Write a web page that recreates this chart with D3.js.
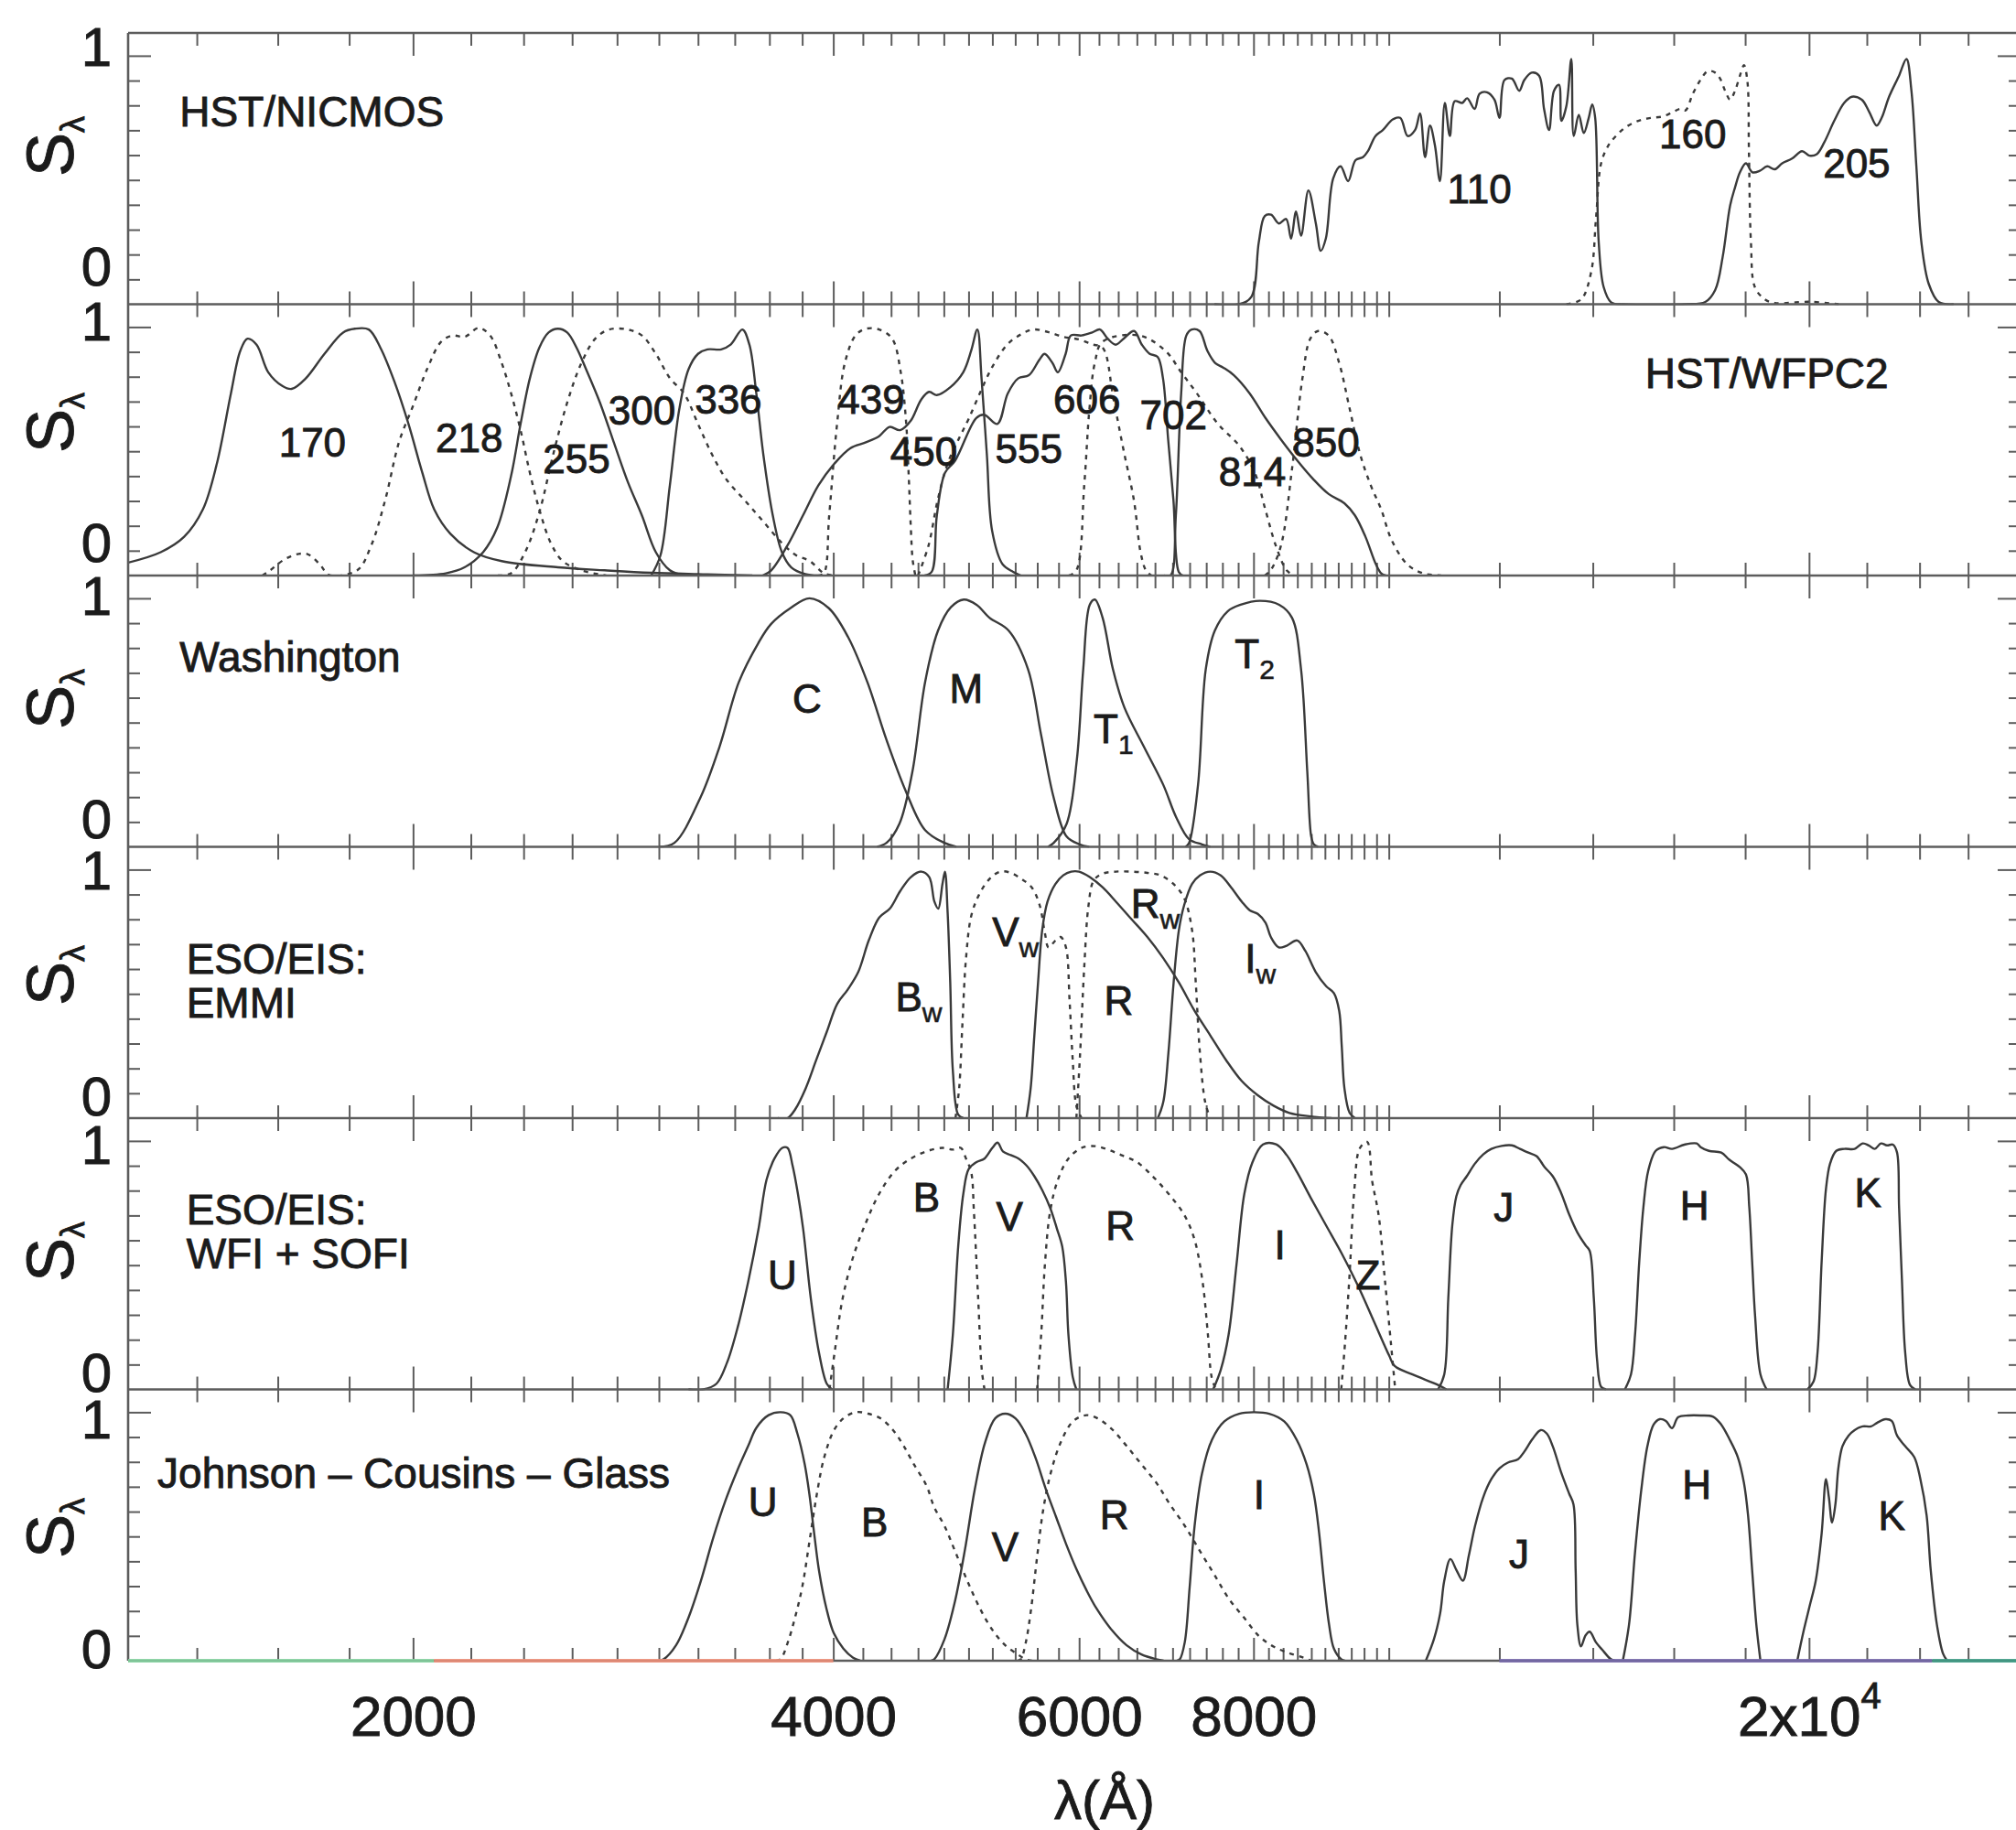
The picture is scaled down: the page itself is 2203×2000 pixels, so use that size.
<!DOCTYPE html>
<html>
<head>
<meta charset="utf-8">
<script src="https://cdn.jsdelivr.net/npm/d3@7"></script>
<style>
html,body{margin:0;padding:0;background:#fff;}
svg{display:block;}
text{font-family:"Liberation Sans",Arial,Helvetica,sans-serif;fill:#1b1b1b;stroke:#1b1b1b;stroke-width:0.9px;}
</style>
</head>
<body>
<svg id="chart" width="2203" height="2000"></svg>
<script>
// ================= DATA (wavelength in Å, normalised response S) =================
// --- x axis ---
const xMajorTicks = [2000, 4000, 6000, 8000, 20000];
const xTickLabels = ["2000", "4000", "6000", "8000", "2x10^4"];
const yMinorTicks = [0.1, 0.2, 0.3, 0.4, 0.5, 0.6, 0.7, 0.8, 0.9];
const yMajorTicks = [1];
const yTickLabels = ["0", "1"];
const xAxisTitle = "λ(Å)";
const yAxisTitle = ["S", "λ"];

// --- panel titles ---
const panelTitles = [
  ["HST/NICMOS"], ["HST/WFPC2"], ["Washington"],
  ["ESO/EIS:", "EMMI"], ["ESO/EIS:", "WFI + SOFI"], ["Johnson – Cousins – Glass"]
];
const panelTitleLam = [1361, 15265, 1361, 1376, 1376, 1312];
const panelTitleS = [[0.775], [0.817], [0.767], [0.644, 0.464], [0.727, 0.547], [0.758]];

// --- HST/NICMOS ---
const nic110 = [[7500,0],[7810,0],[7972,0.03],[8070,0.25],[8150,0.355],[8236,0.36],[8340,0.325],[8442,0.343],[8511,0.264],[8581,0.373],[8652,0.276],[8758,0.458],[8866,0.325],[8938,0.215],[9013,0.264],[9124,0.507],[9236,0.555],[9350,0.495],[9466,0.58],[9583,0.592],[9661,0.616],[9782,0.677],[9902,0.701],[10065,0.744],[10190,0.75],[10316,0.677],[10442,0.701],[10528,0.768],[10616,0.592],[10703,0.719],[10790,0.64],[10879,0.495],[10968,0.81],[11059,0.677],[11149,0.817],[11287,0.81],[11379,0.829],[11521,0.786],[11616,0.847],[11758,0.853],[11903,0.823],[12002,0.75],[12101,0.902],[12250,0.908],[12400,0.859],[12503,0.902],[12657,0.932],[12813,0.92],[12918,0.786],[13025,0.701],[13132,0.859],[13240,0.883],[13294,0.738],[13403,0.798],[13512,0.987],[13567,0.677],[13680,0.762],[13793,0.689],[13906,0.75],[13986,0.804],[14055,0.75],[14137,0.25],[14253,0.069],[14428,0.008],[14665,0]];
const nic160 = [[13403,0],[13736,0.02],[13962,0.13],[14076,0.35],[14193,0.567],[14368,0.64],[14545,0.677],[14786,0.713],[15091,0.738],[15404,0.75],[15721,0.756],[15983,0.774],[16179,0.786],[16311,0.78],[16512,0.847],[16718,0.902],[16923,0.938],[17131,0.932],[17271,0.908],[17415,0.859],[17558,0.823],[17701,0.859],[17846,0.92],[17965,0.962],[18068,0.895],[18112,0.616],[18172,0.25],[18290,0.069],[18591,0.02],[18900,0.005],[20012,0.01],[21000,0]];
const nic205 = [[14665,0],[16311,0],[16854,0.009],[17131,0.057],[17344,0.19],[17558,0.397],[17701,0.47],[17846,0.531],[18022,0.567],[18216,0.531],[18440,0.537],[18667,0.555],[18900,0.543],[19133,0.567],[19447,0.586],[19770,0.616],[20012,0.598],[20258,0.604],[20511,0.652],[20848,0.738],[21191,0.81],[21466,0.835],[21819,0.823],[22087,0.774],[22362,0.719],[22545,0.75],[22822,0.835],[23201,0.92],[23486,0.987],[23679,0.859],[23873,0.555],[24071,0.25],[24368,0.081],[24769,0.009],[25384,0]];
const nicLabels = [["110","",11612,0.466],["160","",16508,0.687],["205","",21634,0.569]];

// --- HST/WFPC2 ---
const wf170 = [[1250,0.052],[1319,0.094],[1371,0.156],[1414,0.266],[1447,0.45],[1481,0.733],[1504,0.904],[1522,0.953],[1545,0.929],[1575,0.818],[1612,0.763],[1637,0.751],[1676,0.794],[1728,0.892],[1782,0.978],[1817,0.993],[1859,0.99],[1895,0.917],[1939,0.782],[1985,0.61],[2031,0.413],[2071,0.266],[2127,0.168],[2211,0.094],[2315,0.058],[2540,0.033],[2743,0.021],[2962,0.011],[3250,0.005],[3500,0]];
const wf218 = [[1560,0],[1575,0.015],[1624,0.07],[1676,0.088],[1715,0.045],[1741,0.002],[1824,0.021],[1866,0.119],[1910,0.303],[1954,0.536],[2000,0.683],[2047,0.831],[2095,0.941],[2135,0.966],[2177,0.96],[2228,0.996],[2271,0.966],[2315,0.855],[2351,0.733],[2388,0.585],[2425,0.413],[2463,0.266],[2510,0.131],[2560,0.058],[2640,0.021],[2750,0]];
const wf255 = [[2000,0],[2111,0.009],[2177,0.033],[2245,0.094],[2298,0.193],[2351,0.401],[2388,0.61],[2425,0.794],[2463,0.917],[2501,0.978],[2540,0.993],[2579,0.978],[2619,0.917],[2660,0.831],[2722,0.696],[2785,0.536],[2850,0.377],[2917,0.242],[2985,0.094],[3055,0.021],[3127,0]];
const wf300 = [[2300,0],[2351,0.009],[2406,0.094],[2463,0.254],[2520,0.487],[2579,0.696],[2640,0.855],[2701,0.953],[2764,0.99],[2850,0.99],[2917,0.966],[2985,0.892],[3055,0.794],[3127,0.733],[3200,0.61],[3275,0.487],[3351,0.389],[3456,0.303],[3564,0.217],[3675,0.131],[3761,0.082],[3849,0.058],[3938,0.009],[4000,0]];
const wf336 = [[2962,0],[3008,0.082],[3055,0.364],[3103,0.671],[3151,0.831],[3200,0.892],[3250,0.91],[3325,0.91],[3377,0.929],[3443,0.99],[3483,0.929],[3523,0.733],[3564,0.487],[3620,0.242],[3675,0.094],[3732,0.033],[3819,0.006],[3900,0]];
const wf439 = [[3900,0],[3938,0.009],[3973,0.242],[4025,0.61],[4077,0.855],[4149,0.966],[4221,0.993],[4314,0.99],[4408,0.953],[4470,0.82],[4510,0.62],[4530,0.4],[4545,0.2],[4560,0.06],[4580,0]];
const wf450 = [[3560,0],[3611,0.021],[3707,0.119],[3805,0.242],[3904,0.364],[4007,0.45],[4113,0.512],[4221,0.536],[4314,0.561],[4389,0.598],[4466,0.585],[4544,0.622],[4624,0.708],[4684,0.739],[4745,0.726],[4850,0.757],[4956,0.818],[5021,0.904],[5073,0.99],[5108,0.794],[5153,0.487],[5198,0.18],[5289,0.045],[5381,0.015],[5450,0]];
const wf555 = [[4600,0],[4680,0.12],[4750,0.3],[4830,0.45],[4920,0.55],[5000,0.63],[5100,0.74],[5200,0.84],[5330,0.93],[5450,0.97],[5560,0.99],[5700,0.98],[5850,0.96],[6000,0.95],[6130,0.93],[6237,0.917],[6350,0.71],[6456,0.505],[6569,0.3],[6640,0.094],[6700,0.02],[6760,0]];
const wf606 = [[4650,0],[4705,0.015],[4745,0.242],[4809,0.413],[4891,0.463],[5064,0.634],[5130,0.647],[5243,0.61],[5334,0.733],[5428,0.794],[5523,0.806],[5619,0.868],[5668,0.892],[5742,0.855],[5793,0.818],[5868,0.892],[5919,0.966],[6024,0.966],[6130,0.978],[6209,0.99],[6290,0.953],[6373,0.929],[6456,0.953],[6569,0.984],[6654,0.929],[6741,0.892],[6829,0.88],[6890,0.794],[6949,0.548],[7010,0.303],[7071,0.015],[7120,0]];
const wf702 = [[5900,0],[5973,0.021],[6051,0.364],[6103,0.671],[6157,0.855],[6237,0.941],[6624,0.966],[6918,0.904],[7100,0.818],[7286,0.733],[7544,0.61],[7809,0.524],[8018,0.413],[8157,0.266],[8301,0.119],[8449,0.021],[8550,0]];
const wf814 = [[6900,0],[6977,0],[7038,0.242],[7100,0.733],[7161,0.966],[7224,0.99],[7318,0.984],[7414,0.904],[7511,0.855],[7609,0.837],[7745,0.806],[7949,0.733],[8157,0.635],[8369,0.548],[8598,0.463],[8824,0.389],[9055,0.328],[9293,0.291],[9456,0.242],[9622,0.156],[9790,0.045],[9875,0.009],[9950,0]];
const wf850 = [[8150,0],[8229,0.021],[8369,0.119],[8523,0.426],[8672,0.794],[8785,0.953],[8900,0.984],[9055,0.966],[9214,0.855],[9375,0.671],[9539,0.487],[9705,0.364],[9875,0.266],[10044,0.144],[10309,0.045],[10580,0.009],[10900,0]];
const wfLabels = [["170","",1694,0.536],["218","",2194,0.555],["255","",2619,0.469],["300","",2917,0.665],["336","",3364,0.708],["439","",4258,0.708],["450","",4644,0.5],["555","",5523,0.512],["606","",6077,0.708],["702","",7010,0.647],["814","",7984,0.42],["850","",9016,0.536]];

// --- Washington ---
const waC = [[3000,0],[3078,0.016],[3212,0.197],[3316,0.404],[3423,0.663],[3534,0.819],[3609,0.896],[3726,0.96],[3846,1.0],[3971,0.96],[4098,0.845],[4231,0.663],[4367,0.43],[4509,0.223],[4654,0.067],[4805,0.016],[4900,0]];
const waM = [[4300,0],[4367,0.016],[4461,0.093],[4557,0.301],[4654,0.663],[4754,0.87],[4856,0.964],[4960,0.995],[5066,0.974],[5175,0.922],[5342,0.87],[5515,0.715],[5633,0.456],[5754,0.197],[5878,0.041],[6004,0.01],[6100,0]];
const waT1 = [[5700,0],[5754,0.016],[5878,0.093],[5978,0.352],[6041,0.715],[6106,0.974],[6158,0.995],[6237,0.922],[6344,0.715],[6466,0.56],[6675,0.404],[6894,0.249],[7042,0.119],[7193,0.031],[7347,0.01],[7450,0]];
const waT2 = [[7150,0],[7193,0.016],[7300,0.249],[7394,0.715],[7505,0.87],[7666,0.948],[7831,0.974],[8084,0.99],[8346,0.974],[8524,0.922],[8652,0.715],[8742,0.301],[8799,0.041],[8837,0.01],[8900,0]];
const waLabels = [["C","",3830,0.596],["M","",4981,0.637],["T","1",6350,0.477],["T","2",8015,0.777]];

// --- ESO/EIS: EMMI ---
const emBw = [[3650,0],[3709,0],[3756,0.035],[3822,0.12],[3889,0.234],[3957,0.347],[4026,0.46],[4096,0.517],[4168,0.588],[4241,0.715],[4315,0.807],[4391,0.843],[4467,0.914],[4546,0.97],[4625,0.992],[4686,0.97],[4726,0.871],[4756,0.843],[4789,0.942],[4809,0.992],[4830,0.829],[4851,0.545],[4872,0.191],[4915,0.014],[4957,0]];
const emVw = [[4893,0],[4923,0.12],[4949,0.375],[4979,0.644],[5022,0.814],[5087,0.899],[5177,0.963],[5268,0.992],[5360,0.987],[5454,0.963],[5550,0.928],[5622,0.857],[5671,0.744],[5705,0.687],[5770,0.715],[5820,0.729],[5871,0.687],[5906,0.475],[5937,0.234],[5973,0.05],[6025,0]];
const emRw = [[5501,0],[5539,0.12],[5573,0.333],[5607,0.545],[5646,0.758],[5695,0.871],[5770,0.942],[5845,0.977],[5922,0.992],[5999,0.992],[6106,0.97],[6239,0.928],[6376,0.871],[6543,0.8],[6715,0.729],[6893,0.644],[7074,0.545],[7258,0.432],[7449,0.333],[7645,0.234],[7847,0.149],[8056,0.092],[8268,0.05],[8488,0.021],[8788,0.007],[9099,0]];
const emR = [[5973,0],[6010,0.262],[6052,0.616],[6094,0.857],[6146,0.956],[6239,0.984],[6376,0.992],[6543,0.992],[6715,0.987],[6863,0.977],[7012,0.942],[7135,0.885],[7228,0.758],[7273,0.545],[7323,0.262],[7387,0.064],[7449,0]];
const emIw = [[6832,0],[6893,0.064],[6952,0.262],[7012,0.545],[7074,0.758],[7135,0.857],[7228,0.942],[7323,0.977],[7449,0.992],[7579,0.977],[7711,0.928],[7847,0.871],[7952,0.836],[8056,0.822],[8161,0.786],[8231,0.729],[8340,0.687],[8450,0.694],[8598,0.715],[8713,0.673],[8864,0.588],[9017,0.531],[9134,0.503],[9214,0.432],[9253,0.29],[9294,0.12],[9374,0.021],[9456,0]];
const emLabels = [["B","w",4605,0.489],["V","w",5402,0.751],["R","",6403,0.475],["R","w",6803,0.864],["I","w",8091,0.645]];

// --- ESO/EIS: WFI + SOFI ---
const wsU = [[3150,0],[3229,0],[3299,0.023],[3357,0.108],[3416,0.249],[3476,0.433],[3536,0.646],[3583,0.844],[3630,0.929],[3677,0.972],[3709,0.972],[3740,0.901],[3773,0.788],[3806,0.646],[3855,0.363],[3906,0.15],[3957,0.023],[3992,0]];
const wsB = [[3975,0],[4009,0.15],[4061,0.363],[4133,0.533],[4223,0.674],[4315,0.788],[4429,0.88],[4546,0.929],[4665,0.958],[4789,0.972],[4872,0.965],[4936,0.972],[4979,0.929],[5022,0.873],[5044,0.717],[5080,0.363],[5110,0.079],[5133,0]];
const wsV = [[4830,0],[4872,0.221],[4915,0.575],[4957,0.788],[5001,0.887],[5066,0.915],[5133,0.929],[5200,0.972],[5245,0.993],[5291,0.958],[5360,0.943],[5430,0.929],[5501,0.901],[5573,0.858],[5646,0.802],[5720,0.731],[5785,0.646],[5835,0.575],[5871,0.433],[5895,0.221],[5937,0.051],[5973,0]];
const wsR = [[5598,0],[5636,0.221],[5671,0.504],[5720,0.717],[5794,0.844],[5895,0.929],[6025,0.972],[6159,0.979],[6293,0.965],[6431,0.943],[6600,0.915],[6773,0.858],[6952,0.788],[7135,0.703],[7258,0.603],[7355,0.433],[7420,0.221],[7465,0.051],[7517,0]];
const wsI = [[7484,0],[7579,0.079],[7678,0.221],[7779,0.504],[7880,0.788],[7987,0.915],[8126,0.986],[8304,0.986],[8450,0.943],[8598,0.873],[8788,0.773],[9017,0.66],[9253,0.547],[9501,0.419],[9750,0.278],[10006,0.136],[10093,0.095],[10400,0.06],[10847,0.018],[10995,0]];
const wsZ = [[9245,0],[9301,0.18],[9375,0.47],[9446,0.8],[9532,0.97],[9648,0.996],[9728,0.84],[9834,0.7],[9936,0.44],[10037,0.18],[10106,0]];
const wsJ = [[10846,0],[10958,0.061],[11031,0.368],[11104,0.661],[11179,0.778],[11257,0.822],[11372,0.858],[11527,0.909],[11685,0.946],[11843,0.968],[12046,0.98],[12251,0.982],[12416,0.968],[12586,0.953],[12758,0.939],[12929,0.895],[13105,0.858],[13284,0.792],[13463,0.705],[13647,0.632],[13834,0.58],[13928,0.558],[14023,0.368],[14098,0.12],[14194,0.01],[14309,0]];
const wsH = [[14761,0],[14910,0.061],[15011,0.222],[15115,0.515],[15219,0.734],[15340,0.88],[15529,0.96],[15742,0.975],[15956,0.968],[16282,0.985],[16616,0.99],[16726,0.975],[16954,0.96],[17303,0.953],[17538,0.924],[17838,0.895],[18023,0.865],[18122,0.734],[18208,0.515],[18297,0.295],[18459,0.061],[18649,0]];
const wsK = [[19948,0],[20150,0.032],[20282,0.149],[20420,0.515],[20566,0.807],[20706,0.909],[20917,0.96],[21203,0.968],[21561,0.968],[21853,0.99],[22070,0.982],[22292,0.968],[22518,0.99],[22743,0.982],[22971,0.985],[23124,0.953],[23201,0.734],[23311,0.442],[23437,0.149],[23623,0.018],[23833,0]];
const wsLabels = [["U","",3677,0.462],["B","",4665,0.773],["V","",5349,0.696],["R","",6420,0.66],["I","",8355,0.582],["Z","",9663,0.462],["J","",12088,0.735],["H","",16557,0.742],["K","",22041,0.793]];

// --- Johnson - Cousins - Glass ---
const jcU = [[3000,0],[3024,0.006],[3086,0.062],[3150,0.173],[3215,0.321],[3281,0.494],[3347,0.642],[3414,0.765],[3476,0.864],[3524,0.938],[3595,0.988],[3667,1.0],[3726,0.988],[3770,0.914],[3816,0.79],[3846,0.667],[3877,0.506],[3908,0.358],[3955,0.21],[4003,0.111],[4067,0.049],[4133,0.012],[4182,0]];
const jcB = [[3640,0],[3667,0.006],[3711,0.074],[3755,0.173],[3800,0.296],[3846,0.481],[3892,0.667],[3939,0.815],[4003,0.926],[4067,0.975],[4150,1.0],[4237,0.994],[4326,0.975],[4417,0.926],[4493,0.864],[4569,0.79],[4665,0.704],[4725,0.617],[4805,0.543],[4887,0.444],[4990,0.321],[5095,0.21],[5202,0.123],[5312,0.062],[5424,0.025],[5492,0.006],[5550,0]];
const jcV = [[4700,0],[4725,0.006],[4805,0.086],[4887,0.235],[4969,0.444],[5052,0.691],[5137,0.877],[5224,0.975],[5312,0.994],[5402,0.975],[5492,0.914],[5585,0.815],[5679,0.691],[5775,0.58],[5873,0.469],[5972,0.37],[6073,0.284],[6175,0.21],[6333,0.123],[6489,0.062],[6650,0.025],[6815,0.006],[6900,0]];
const jcR = [[5420,0],[5450,0.006],[5495,0.074],[5540,0.198],[5599,0.42],[5654,0.605],[5724,0.753],[5819,0.877],[5939,0.963],[6073,0.988],[6186,0.975],[6333,0.932],[6489,0.864],[6650,0.79],[6815,0.716],[6968,0.63],[7142,0.543],[7318,0.444],[7500,0.346],[7686,0.247],[7877,0.173],[8073,0.099],[8273,0.056],[8480,0.031],[8689,0.012],[8800,0]];
const jcI = [[7050,0],[7084,0.006],[7142,0.074],[7200,0.296],[7259,0.543],[7348,0.753],[7470,0.889],[7624,0.963],[7812,0.994],[8005,1.0],[8210,0.994],[8415,0.963],[8590,0.889],[8732,0.79],[8839,0.667],[8912,0.519],[8985,0.321],[9060,0.148],[9134,0.049],[9246,0.006],[9300,0]];
const jcJ = [[10629,0],[10774,0.088],[10883,0.19],[10958,0.322],[11069,0.409],[11179,0.365],[11299,0.322],[11412,0.424],[11527,0.541],[11685,0.658],[11843,0.731],[12005,0.775],[12169,0.797],[12377,0.811],[12503,0.841],[12674,0.892],[12847,0.928],[12977,0.914],[13105,0.863],[13284,0.76],[13463,0.673],[13561,0.629],[13609,0.365],[13647,0.146],[13729,0.058],[13834,0.102],[13928,0.117],[14077,0.073],[14220,0.044],[14416,0.007],[14514,0]];
const jcH = [[14710,0],[14862,0.146],[15011,0.439],[15165,0.687],[15319,0.863],[15477,0.95],[15635,0.972],[15794,0.965],[15956,0.936],[16118,0.98],[16394,0.987],[16726,0.987],[17074,0.982],[17303,0.95],[17538,0.892],[17783,0.819],[17963,0.716],[18086,0.585],[18208,0.365],[18334,0.146],[18459,0]];
const jcK = [[19615,0],[19816,0.117],[20017,0.219],[20222,0.322],[20420,0.512],[20566,0.731],[20665,0.658],[20775,0.556],[20888,0.629],[20990,0.775],[21132,0.863],[21348,0.906],[21561,0.928],[21853,0.943],[22155,0.943],[22383,0.958],[22686,0.972],[22921,0.965],[23124,0.906],[23437,0.863],[23791,0.819],[24031,0.731],[24280,0.585],[24445,0.365],[24694,0.146],[24945,0.029],[25114,0]];
const jcLabels = [["U","",3562,0.638],["B","",4281,0.559],["V","",5312,0.46],["R","",6358,0.589],["I","",8073,0.669],["J","",12398,0.431],["H","",16616,0.708],["K","",22921,0.584]];

// coloured strip along the bottom axis (wavelength ranges)
const bandStart = [1250, 2070, 12000, 24500];
const bandEnd   = [2070, 4000, 24500, 28350];

// ================= BUILD =================
const panels = [
  {curves: [[nic110,0],[nic160,1],[nic205,0]], labels: nicLabels},
  {curves: [[wf170,0],[wf218,1],[wf255,0],[wf300,1],[wf336,0],[wf439,1],[wf450,0],[wf555,1],[wf606,0],[wf702,1],[wf814,0],[wf850,1]], labels: wfLabels},
  {curves: [[waC,0],[waM,0],[waT1,0],[waT2,0]], labels: waLabels},
  {curves: [[emBw,0],[emVw,1],[emRw,0],[emR,1],[emIw,0]], labels: emLabels},
  {curves: [[wsU,0],[wsB,1],[wsV,0],[wsR,1],[wsI,0],[wsZ,1],[wsJ,0],[wsH,0],[wsK,0]], labels: wsLabels},
  {curves: [[jcU,0],[jcB,1],[jcV,0],[jcR,1],[jcI,0],[jcJ,0],[jcH,0],[jcK,0]], labels: jcLabels}
];
const bandColors = ["#86d6a2", "#f39079", "#7769ae", "#3e9f88"];

const L = 140, R = 2208, TOP = 36, BOT = 1815, NP = 6;
const PH = (BOT - TOP) / NP;
const YMAX = 1.0917;
const lineColor = "#3a3a3a", frameColor = "#5c5c5c", tickColor = "#5c5c5c";

const x = d3.scaleLog().domain([1250, 28350]).range([L, R]);
const xMinorTicks = d3.range(1400, 10001, 200).concat(d3.range(12000, 26001, 2000))
  .filter(v => xMajorTicks.indexOf(v) < 0);

const svg = d3.select("#chart");
svg.append("rect").attr("width", 2203).attr("height", 2000).attr("fill", "#fff");
const defs = svg.append("defs");

function styleAxis(a) {
  a.select(".domain").remove();
  a.selectAll(".tick line").attr("stroke", tickColor).attr("stroke-width", 2);
}

// y-tick label column (its pitch is slightly larger than the panel pitch)
const oneY = i => 51 + 300 * i + 21;        // baseline of "1" label of panel i
const zeroY = i => 291 + 302.2 * i + 21;    // baseline of "0" label of panel i

panels.forEach((p, i) => {
  const T = TOP + i * PH, B = T + PH;
  const y = d3.scaleLinear().domain([0, YMAX]).range([B, T]);
  const g = svg.append("g");

  defs.append("clipPath").attr("id", "clip" + i)
    .append("rect").attr("x", L).attr("y", T - 1).attr("width", R - L).attr("height", PH + 2);

  // x ticks at top (pointing down) and bottom (pointing up)
  [[d3.axisBottom, T], [d3.axisTop, B]].forEach(([fn, yy]) => {
    styleAxis(g.append("g").attr("transform", `translate(0,${yy})`)
      .call(fn(x).tickValues(xMinorTicks).tickSize(14).tickFormat("")));
    styleAxis(g.append("g").attr("transform", `translate(0,${yy})`)
      .call(fn(x).tickValues(xMajorTicks).tickSize(25).tickFormat("")));
  });
  // y ticks left (pointing right) and right (pointing left)
  [[d3.axisRight, L], [d3.axisLeft, R]].forEach(([fn, xx]) => {
    styleAxis(g.append("g").attr("transform", `translate(${xx},0)`)
      .call(fn(y).tickValues(yMinorTicks).tickSize(13).tickFormat("")));
    styleAxis(g.append("g").attr("transform", `translate(${xx},0)`)
      .call(fn(y).tickValues(yMajorTicks).tickSize(25).tickFormat("")));
  });

  // curves
  const line = d3.line().x(d => x(d[0])).y(d => y(d[1])).curve(d3.curveCatmullRom.alpha(0.5));
  const cg = g.append("g").attr("clip-path", `url(#clip${i})`);
  p.curves.forEach(([data, dotted]) => {
    cg.append("path").attr("d", line(data)).attr("fill", "none")
      .attr("stroke", lineColor).attr("stroke-width", 2.4)
      .attr("stroke-linejoin", "round")
      .attr("stroke-dasharray", dotted ? "5,6" : null);
  });

  // curve labels
  p.labels.forEach(([t, sub, lam, s]) => {
    const fs = 44;
    const tx = g.append("text").attr("x", x(lam)).attr("y", y(s) + fs * 0.358)
      .attr("text-anchor", "middle").attr("font-size", fs);
    tx.append("tspan").text(t);
    if (sub) tx.append("tspan").attr("font-size", 30).attr("dy", 12).style("stroke-width", "0.6px").text(sub);
  });

  // panel title
  panelTitles[i].forEach((ln, k) => {
    g.append("text").attr("x", x(panelTitleLam[i])).attr("y", y(panelTitleS[i][k]) + 46 * 0.358)
      .attr("font-size", 46).attr("text-anchor", "start").text(ln);
  });

  // y tick labels: the "0" of a panel and the "1" of the panel below form one stacked label
  const yl = svg.append("text").attr("text-anchor", "end").attr("font-size", 60);
  if (i === 0) yl.append("tspan").attr("x", 122).attr("y", oneY(0)).text(yTickLabels[1]);
  else yl.attr("font-size", 60);
  const yl2 = svg.append("text").attr("text-anchor", "end").attr("font-size", 60);
  yl2.append("tspan").attr("x", 122).attr("y", zeroY(i)).text(yTickLabels[0]);
  if (i < NP - 1) yl2.append("tspan").attr("x", 122).attr("y", oneY(i + 1)).text(yTickLabels[1]);

  // y title
  const st = svg.append("text").attr("transform", `translate(80,${160 + 302 * i}) rotate(-90)`)
    .attr("text-anchor", "middle");
  st.append("tspan").attr("font-size", 72).text(yAxisTitle[0]);
  st.append("tspan").attr("font-size", 36).attr("dy", 12).text(yAxisTitle[1]);
});

// frame
for (let i = 0; i <= NP; i++) {
  svg.append("line").attr("x1", L).attr("x2", R).attr("y1", TOP + i * PH).attr("y2", TOP + i * PH)
    .attr("stroke", frameColor).attr("stroke-width", 2.6);
}
[L, R].forEach(xx => svg.append("line").attr("x1", xx).attr("x2", xx).attr("y1", TOP).attr("y2", BOT)
  .attr("stroke", frameColor).attr("stroke-width", 2.6));

// coloured strip along bottom axis
bandStart.forEach((a, k) => {
  svg.append("line").attr("x1", x(a)).attr("x2", x(bandEnd[k])).attr("y1", BOT).attr("y2", BOT)
    .attr("stroke", bandColors[k]).attr("stroke-width", 4).attr("opacity", 0.85);
});

// x tick labels
const xa = svg.append("g").attr("transform", `translate(0,${BOT})`)
  .call(d3.axisBottom(x).tickValues(xMajorTicks).tickSize(0)
    .tickFormat((d, k) => xTickLabels[k]));
xa.select(".domain").remove();
xa.selectAll(".tick text").attr("y", 82).attr("dy", null).attr("font-size", 62)
  .attr("fill", "#1b1b1b").attr("font-family", '"Liberation Sans",Arial,sans-serif')
  .each(function (d) {
    const s = d3.select(this);
    const txt = s.text();
    if (txt.indexOf("^") >= 0) {
      const parts = txt.split("^");
      s.text(null);
      s.append("tspan").text(parts[0]);
      s.append("tspan").attr("font-size", 40).attr("dy", -30).text(parts[1]);
    }
  });

// x title
svg.append("text").attr("x", 1207).attr("y", 1988).attr("text-anchor", "middle")
  .attr("font-size", 60).text(xAxisTitle);
</script>
</body>
</html>
